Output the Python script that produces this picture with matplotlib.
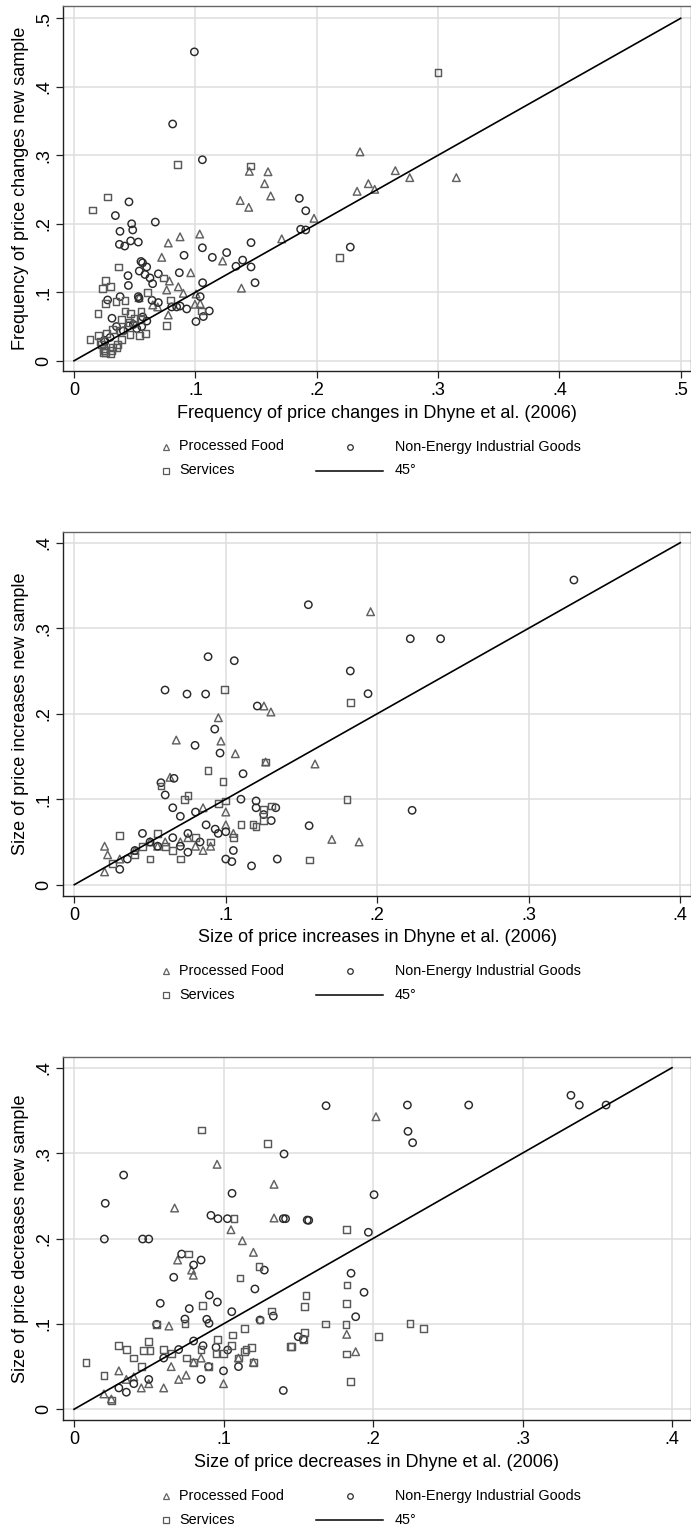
import matplotlib
matplotlib.use("Agg")
import matplotlib.pyplot as plt
from matplotlib.lines import Line2D

plt.rcParams['font.family'] = ['Liberation Sans', 'DejaVu Sans']

# ---------------- data ----------------
# Panel 1: frequency of price changes
pf1 = [(.1445, .2766), (.1599, .276), (.1571, .2586), (.1621, .2406), (.137, .234), (.144, .224),
       (.0777, .172), (.0874, .181), (.1036, .185), (.0723, .151), (.1225, .1457), (.0962, .1286),
       (.0786, .1165), (.086, .108), (.0764, .1034), (.0901, .0985), (.1006, .0975), (.0536, .0922),
       (.0649, .0815), (.069, .0786), (.0997, .0825), (.104, .0835), (.0777, .0669), (.138, .106),
       (.1978, .208), (.1712, .178), (.2357, .305), (.2648, .2776), (.2767, .2674), (.2426, .2586),
       (.2478, .2503), (.2333, .2474), (.3151, .2674)]
ne1 = [(.0992, .451), (.0813, .3457), (.1058, .2935), (.0453, .232), (.0341, .212), (.0475, .200),
       (.067, .2025), (.0379, .189), (.0484, .191), (.0374, .170), (.0418, .1675), (.0467, .175),
       (.053, .1733), (.1058, .165), (.0907, .154), (.114, .151), (.1258, .158), (.1459, .1725),
       (.1335, .138), (.139, .147), (.1459, .137), (.1492, .114), (.0552, .145), (.0565, .143),
       (.0599, .137), (.0538, .131), (.0585, .126), (.0626, .121), (.0648, .1126), (.0695, .127),
       (.0445, .1243), (.0448, .110), (.0868, .1286), (.106, .114), (.038, .0937), (.0277, .0888),
       (.053, .0937), (.0536, .091), (.0643, .0883), (.0695, .085), (.0805, .0786), (.0846, .0786),
       (.0874, .080), (.0929, .0757), (.104, .0937), (.1115, .0728), (.1066, .0646), (.1005, .0573),
       (.0313, .0621), (.0566, .064), (.0558, .05), (.0517, .047), (.0407, .0437), (.045, .051),
       (.049, .053), (.0297, .034), (.025, .03), (.1857, .2372), (.191, .219), (.1868, .192),
       (.191, .191), (.2277, .166), (.0255, .028), (.035, .05), (.060, .058)]
sv1 = [(.300, .4206), (.2187, .151), (.0854, .286), (.1456, .2844), (.0275, .239), (.0151, .220),
       (.0365, .137), (.0261, .117), (.0234, .106), (.030, .108), (.0346, .0864), (.0261, .0835),
       (.042, .088), (.0607, .0995), (.0739, .121), (.0794, .0888), (.0198, .0694), (.042, .0728),
       (.0467, .0694), (.0552, .0714), (.0393, .0607), (.0456, .056), (.050, .062), (.055, .060),
       (.0132, .0306), (.0203, .0364), (.027, .040), (.0319, .0451), (.038, .044), (.0538, .0364),
       (.0588, .0398), (.0764, .051), (.025, .015), (.024, .018), (.032, .020), (.036, .024),
       (.1052, .0728), (.022, .028), (.030, .010), (.026, .012), (.0242, .0121), (.031, .0155),
       (.0352, .0194), (.0228, .0243), (.0393, .0316), (.0462, .0388)]

# Panel 2: size of price increases
pf2 = [(.1956, .3193), (.1589, .1412), (.1252, .209), (.1298, .202), (.0951, .1953), (.0673, .1692),
       (.0968, .168), (.1063, .1532), (.1263, .1435), (.0632, .1256), (.17, .053), (.188, .05),
       (.02, .045), (.022, .035), (.02, .015), (.03, .03), (.04, .04), (.05, .05), (.055, .045),
       (.06, .05), (.07, .05), (.075, .055), (.08, .045), (.085, .04), (.09, .045), (.085, .09),
       (.1, .085), (.1, .07), (.105, .06)]
ne2 = [(.3298, .3564), (.1545, .3275), (.2218, .2877), (.2418, .2877), (.1822, .25), (.1939, .2234),
       (.0883, .2667), (.1056, .262), (.0599, .2277), (.0744, .223), (.0867, .223), (.1208, .209),
       (.0927, .182), (.0797, .163), (.0962, .154), (.1114, .1298), (.0658, .1244), (.0572, .1193),
       (.1, .062), (.087, .07), (.093, .065), (.095, .06), (.11, .1), (.12, .098), (.12, .09),
       (.125, .082), (.13, .075), (.133, .09), (.134, .03), (.117, .022), (.155, .069), (.223, .087),
       (.105, .04), (.08, .085), (.06, .105), (.065, .09), (.07, .08), (.075, .06), (.083, .05),
       (.05, .05), (.04, .04), (.03, .018), (.035, .03), (.045, .06), (.055, .045), (.065, .055),
       (.07, .045), (.075, .038), (.1, .03), (.104, .027)]
sv2 = [(.1822, .2133), (.099, .2285), (.0883, .1338), (.1263, .1435), (.0982, .1205), (.0572, .1155),
       (.025, .025), (.03, .058), (.04, .035), (.045, .045), (.05, .03), (.055, .06), (.06, .045),
       (.065, .04), (.07, .03), (.073, .1), (.075, .104), (.08, .055), (.09, .05), (.095, .095),
       (.1, .098), (.105, .055), (.11, .07), (.118, .07), (.12, .068), (.125, .075), (.125, .088),
       (.13, .092), (.155, .029), (.18, .1)]

# Panel 3: size of price decreases
pf3 = [(.202, .3426), (.0957, .2869), (.1338, .2635), (.0673, .2357), (.1338, .224), (.105, .2103),
       (.1126, .1974), (.12, .1838), (.0693, .1748), (.0787, .163), (.0798, .157), (.0635, .0975),
       (.1824, .0878), (.1884, .0674), (.02, .018), (.025, .012), (.03, .045), (.035, .035),
       (.04, .038), (.045, .025), (.05, .03), (.06, .025), (.065, .05), (.07, .035), (.075, .04),
       (.08, .055), (.085, .06), (.1, .03), (.11, .06), (.12, .055)]
ne3 = [(.1686, .3555), (.2230, .3563), (.264, .3563), (.3324, .3677), (.338, .3563), (.3559, .3563),
       (.2234, .3255), (.2265, .3122), (.2007, .2513), (.157, .2213), (.1969, .2073), (.1853, .1593),
       (.194, .137), (.1405, .299), (.0332, .2743), (.1057, .2529), (.0209, .2412), (.0916, .2271),
       (.0963, .2232), (.1026, .2232), (.14, .2232), (.1415, .2232), (.156, .2216), (.0203, .1994),
       (.0459, .1994), (.05, .1994), (.072, .1818), (.085, .1748), (.08, .169), (.0667, .1546),
       (.1273, .163), (.121, .1409), (.0905, .1338), (.0577, .1241), (.0771, .1179), (.0959, .1256),
       (.1055, .1143), (.1333, .1092), (.1884, .1084), (.0553, .0995), (.0742, .1057), (.0888, .1054),
       (.0903, .1007), (.1244, .1046), (.1534, .082), (.0863, .0745), (.095, .0726), (.1028, .0694),
       (.03, .025), (.035, .02), (.04, .03), (.05, .035), (.06, .06), (.07, .07), (.08, .08),
       (.085, .035), (.09, .05), (.1, .045), (.11, .05), (.14, .022), (.15, .085)]
sv3 = [(.0852, .327), (.1293, .3115), (.107, .2232), (.0765, .1818), (.1237, .167), (.111, .1537),
       (.1824, .2108), (.1826, .1456), (.1552, .133), (.0861, .1213), (.1322, .1151), (.154, .1201),
       (.1824, .1241), (.1684, .0999), (.1819, .0995), (.2247, .1002), (.2336, .0948), (.0553, .0995),
       (.0742, .1007), (.1139, .0948), (.1059, .087), (.1244, .1046), (.154, .0902), (.1534, .082),
       (.2036, .085), (.1447, .0733), (.1457, .0733), (.1824, .0648), (.0497, .0792), (.0464, .0686),
       (.0508, .0686), (.0961, .082), (.1055, .0745), (.1138, .068), (.1187, .0725), (.185, .033),
       (.008, .055), (.02, .04), (.025, .01), (.03, .075), (.035, .07), (.04, .06), (.045, .05),
       (.06, .07), (.065, .065), (.075, .06), (.08, .055), (.085, .07), (.09, .05), (.095, .065),
       (.1, .065), (.11, .06), (.115, .07), (.12, .055)]

line_pts = {1: [0, .5], 2: [0, .4], 3: [0, .4]}
ticks = {1: [0, .1, .2, .3, .4, .5], 2: [0, .1, .2, .3, .4], 3: [0, .1, .2, .3, .4]}
xtitles = {1: "Frequency of price changes in Dhyne et al. (2006)",
           2: "Size of price increases in Dhyne et al. (2006)",
           3: "Size of price decreases in Dhyne et al. (2006)"}
ytitles = {1: "Frequency of price changes new sample",
           2: "Size of price increases new sample",
           3: "Size of price decreases new sample"}
legend_labels = ["Processed Food", "Non-Energy Industrial Goods", "Services", "45\u00b0"]

def tick_label(v):
    if v == 0:
        return "0"
    return ("%.1f" % v).lstrip("0")

# ---------------- layout ----------------
W, H = 691, 1528
fig = plt.figure(figsize=(W / 100, H / 100), dpi=100)

# (top, bottom) pixel of frame, xlim, ylim
frames = {
    1: (6.3, 371.0, (-0.00907, 0.5085), (-0.0149, 0.5175)),
    2: (531.7, 895.7, (-0.00746, 0.4071), (-0.01287, 0.4129)),
    3: (1056.7, 1420.3, (-0.00736, 0.4127), (-0.0129, 0.4129)),
}
data = {1: (pf1, ne1, sv1), 2: (pf2, ne2, sv2), 3: (pf3, ne3, sv3)}

C_PF = "#626262"
C_NE = "#2a2a2a"
C_SV = "#585858"
GRID = "#dedede"

for k in (1, 2, 3):
    top, bot, xl, yl = frames[k]
    L, R = 63, 691
    ax = fig.add_axes([L / W, 1 - bot / H, (R - L) / W, (bot - top) / H])
    ax.set_xlim(*xl)
    ax.set_ylim(*yl)
    pf, ne, sv = data[k]
    ax.scatter([p[0] for p in pf], [p[1] for p in pf], marker="^", s=30, facecolors="none",
               edgecolors=C_PF, linewidths=1.05, zorder=3)
    ax.scatter([p[0] for p in ne], [p[1] for p in ne], marker="o", s=28, facecolors="none",
               edgecolors=C_NE, linewidths=1.05, zorder=3)
    ax.scatter([p[0] for p in sv], [p[1] for p in sv], marker="s", s=24, facecolors="none",
               edgecolors=C_SV, linewidths=1.05, zorder=3)
    ax.plot(line_pts[k], line_pts[k], color="black", lw=1.2, zorder=4)

    t = ticks[k]
    ax.set_xticks(t)
    ax.set_yticks(t)
    ax.set_xticklabels([tick_label(v) for v in t], fontsize=13)
    ax.set_yticklabels([tick_label(v) for v in t], fontsize=13, rotation=90, va="center")
    ax.grid(True, color=GRID, lw=1.1)
    ax.set_axisbelow(True)
    ax.tick_params(axis="both", direction="out", length=5, width=0.9, color="#222222", pad=3)
    for s in ("left", "bottom"):
        ax.spines[s].set_color("#222222")
        ax.spines[s].set_linewidth(1.0)
    for s in ("top", "right"):
        ax.spines[s].set_color("#666666")
        ax.spines[s].set_linewidth(1.0)
    ax.set_xlabel(xtitles[k], fontsize=13, labelpad=4)
    ax.set_ylabel(ytitles[k], fontsize=13, labelpad=4)

    # legend (manually placed below axes)
    y1 = 1 - (bot + 75.5) / H
    y2 = 1 - (bot + 99.5) / H
    fig.add_artist(Line2D([166 / W], [y1], marker="^", markersize=4.2, mfc="none", mec=C_PF,
                          mew=0.9, ls="none"))
    fig.text(179 / W, y1, legend_labels[0], fontsize=10.4, va="center", ha="left")
    fig.add_artist(Line2D([350 / W], [y1], marker="o", markersize=4.0, mfc="none", mec=C_NE,
                          mew=0.9, ls="none"))
    fig.text(395 / W, y1, legend_labels[1], fontsize=10.4, va="center", ha="left")
    fig.add_artist(Line2D([166 / W], [y2], marker="s", markersize=3.8, mfc="none", mec=C_SV,
                          mew=0.9, ls="none"))
    fig.text(179 / W, y2, legend_labels[2], fontsize=10.4, va="center", ha="left")
    fig.add_artist(Line2D([316 / W, 383 / W], [y2, y2], color="black", lw=1.1))
    fig.text(395 / W, y2, legend_labels[3], fontsize=10.4, va="center", ha="left")

fig.savefig("out.png", dpi=100)
